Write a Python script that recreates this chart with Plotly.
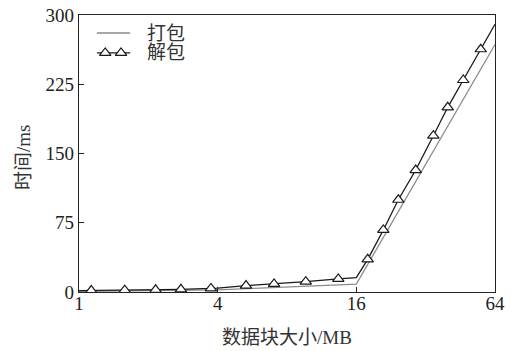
import math
import plotly.graph_objects as go

# Block size (MB) vs. time (ms)
pack_x = [1, 4, 16, 64]
pack_y = [0.8, 2.2, 8.5, 268]

unpack_knot_x = [1, 4, 16, 64]
unpack_knot_y = [1.5, 4.3, 15.5, 290]

unpack_mark_x = [1.13, 1.58, 2.15, 2.77, 3.74, 5.31, 7.03, 9.65, 13.36,
                 17.93, 20.96, 24.35, 28.97, 34.55, 39.9, 46.6, 55.5]
unpack_mark_y = [1.6, 2.0, 2.4, 2.9, 3.9, 7.0, 8.8, 11.2, 14.2,
                 35.4, 67.2, 99.9, 132.1, 169.3, 200.0, 229.6, 262.9]

x_ticks = [1, 4, 16, 64]
y_ticks = [0, 75, 150, 225, 300]

FONT = "Liberation Serif, Times New Roman, Noto Sans CJK SC, serif"
GRAY = "#8c8c8c"
DARK = "#1a1a1a"

# line through both knots and marker points, ordered by size
pts = sorted(zip(unpack_knot_x + unpack_mark_x, unpack_knot_y + unpack_mark_y))
line_x = [p[0] for p in pts]
line_y = [p[1] for p in pts]

fig = go.Figure()
fig.add_trace(go.Scatter(x=pack_x, y=pack_y, mode="lines", name="打包",
                         line=dict(color=GRAY, width=1.3), showlegend=False))
fig.add_trace(go.Scatter(x=line_x, y=line_y, mode="lines", name="解包",
                         line=dict(color=DARK, width=1.3), showlegend=False))
fig.add_trace(go.Scatter(x=unpack_mark_x, y=unpack_mark_y, mode="markers", name="解包",
                         marker=dict(symbol="triangle-up", size=10, color="white",
                                     line=dict(color=DARK, width=1.2)),
                         showlegend=False))

# legend key samples drawn on an overlay axis spanning the plot area
fig.add_trace(go.Scatter(x=[0.043, 0.123], y=[0.935, 0.935], mode="lines",
                         line=dict(color=GRAY, width=1.3), xaxis="x2", yaxis="y2",
                         showlegend=False, hoverinfo="skip"))
fig.add_trace(go.Scatter(x=[0.043, 0.123], y=[0.863, 0.863], mode="lines",
                         line=dict(color=DARK, width=1.3), xaxis="x2", yaxis="y2",
                         showlegend=False, hoverinfo="skip"))
fig.add_trace(go.Scatter(x=[0.063, 0.101], y=[0.863, 0.863], mode="markers",
                         marker=dict(symbol="triangle-up", size=10, color="white",
                                     line=dict(color=DARK, width=1.2)),
                         xaxis="x2", yaxis="y2", showlegend=False, hoverinfo="skip"))

for label, yy in (("打包", 0.935), ("解包", 0.863)):
    fig.add_annotation(x=0.159, y=yy, xref="x2", yref="y2", text=label,
                       showarrow=False, xanchor="left", yanchor="middle",
                       font=dict(family=FONT, size=19, color="#333333"))

# axis titles
fig.add_annotation(x=0.5, y=-0.166, xref="paper", yref="paper", text="数据块大小/MB",
                   showarrow=False, xanchor="center", yanchor="middle",
                   font=dict(family=FONT, size=19, color="#333333"))
fig.add_annotation(x=-0.135, y=0.487, xref="paper", yref="paper", text="时间/ms",
                   showarrow=False, xanchor="center", yanchor="middle", textangle=-90,
                   font=dict(family=FONT, size=19, color="#333333"))

axis_common = dict(showline=True, linecolor="#222222", linewidth=1.3, mirror=True,
                   ticks="inside", ticklen=5, tickwidth=1.2, tickcolor="#222222",
                   showgrid=False, zeroline=False, automargin=False,
                   tickfont=dict(family=FONT, size=19, color="#222222"))

fig.update_layout(
    width=511, height=351,
    margin=dict(l=79, r=16, t=15, b=59),
    paper_bgcolor="white", plot_bgcolor="white",
    showlegend=False,
    xaxis=dict(type="log", range=[0, math.log10(64)], tickvals=x_ticks,
               ticktext=[str(v) for v in x_ticks], ticklabelstandoff=-6,
               **axis_common),
    yaxis=dict(range=[0, 300], tickvals=y_ticks, **axis_common),
    xaxis2=dict(overlaying="x", range=[0, 1], visible=False),
    yaxis2=dict(overlaying="y", range=[0, 1], visible=False),
)

fig.write_html("out.html")
